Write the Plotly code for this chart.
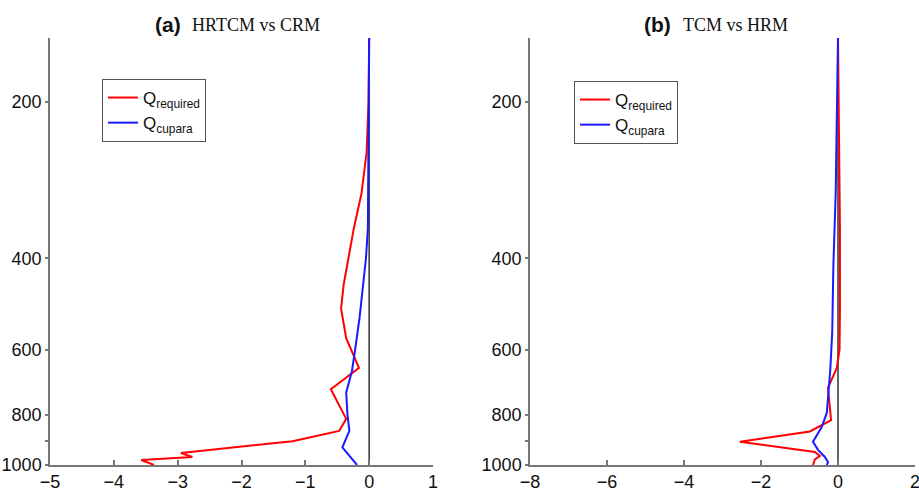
import plotly.graph_objects as go

# Panel (a): HRTCM vs CRM
a_req_p = [150, 200, 250, 300, 350, 400, 450, 500, 570, 650, 715, 815, 860, 900, 948, 965, 978, 1000]
a_req_x = [0, -0.01, -0.04, -0.12, -0.24, -0.32, -0.40, -0.44, -0.36, -0.16, -0.60, -0.36, -0.47, -1.20, -2.95, -2.77, -3.57, -3.37]
a_cup_p = [150, 300, 350, 400, 450, 520, 600, 660, 725, 800, 860, 925, 1000]
a_cup_x = [0, -0.01, -0.02, -0.05, -0.09, -0.15, -0.22, -0.27, -0.36, -0.34, -0.31, -0.42, -0.19]

# Panel (b): TCM vs HRM
b_req_p = [150, 250, 350, 500, 600, 650, 675, 710, 820, 862, 902, 944, 961, 975, 1000]
b_req_x = [0, 0.03, 0.05, 0.05, 0.04, -0.03, -0.13, -0.26, -0.18, -0.73, -2.55, -0.60, -0.47, -0.60, -0.65]
b_cup_p = [150, 300, 413, 555, 655, 720, 793, 844, 902, 935, 965, 987, 1000]
b_cup_x = [0, -0.06, -0.12, -0.15, -0.20, -0.24, -0.29, -0.42, -0.65, -0.52, -0.34, -0.26, -0.29]

y_tickvals = [200, 400, 600, 800, 900, 1000]
y_ticktext = ["200", "400", "600", "800", "", "1000"]

RED = "#ff0000"
BLUE = "#1a1aff"
W, H = 919, 492
SANS = "Liberation Sans, Arial, sans-serif"

fig = go.Figure()

fig.add_trace(go.Scatter(x=a_req_x, y=a_req_p, mode="lines", line=dict(color=RED, width=2),
                         name="Q<sub>required</sub>", xaxis="x", yaxis="y", legend="legend"))
fig.add_trace(go.Scatter(x=a_cup_x, y=a_cup_p, mode="lines", line=dict(color=BLUE, width=2),
                         name="Q<sub>cupara</sub>", xaxis="x", yaxis="y", legend="legend"))
fig.add_trace(go.Scatter(x=b_req_x, y=b_req_p, mode="lines", line=dict(color=RED, width=2),
                         name="Q<sub>required</sub>", xaxis="x2", yaxis="y2", legend="legend2"))
fig.add_trace(go.Scatter(x=b_cup_x, y=b_cup_p, mode="lines", line=dict(color=BLUE, width=2),
                         name="Q<sub>cupara</sub>", xaxis="x2", yaxis="y2", legend="legend2"))

ydom = [(H - 465) / H, (H - 38) / H]
tickfont = dict(family=SANS, size=18, color="#111")
axcol = "#777"

common_x = dict(showline=True, linecolor=axcol, linewidth=1.5, ticks="inside", ticklen=5,
                tickcolor=axcol, tickwidth=1.5, showgrid=False, zeroline=False, tickfont=tickfont,
                automargin=False, ticklabeloverflow="allow")
common_y = dict(type="log", range=[3, 2.178], showline=True, linecolor=axcol, linewidth=1.5,
                ticks="outside", ticklen=3, tickcolor=axcol, tickwidth=1.5, showgrid=False,
                zeroline=False, tickmode="array", tickvals=y_tickvals, ticktext=y_ticktext,
                tickfont=tickfont, automargin=False, ticklabeloverflow="allow")

legfont = dict(family=SANS, size=17, color="#111")
fig.update_layout(
    width=W, height=H,
    margin=dict(l=0, r=0, t=0, b=0, autoexpand=False),
    paper_bgcolor="white", plot_bgcolor="white",
    xaxis=dict(domain=[50 / W, 433 / W], range=[-5, 1], dtick=1, anchor="y", **common_x),
    yaxis=dict(domain=ydom, anchor="x", **common_y),
    xaxis2=dict(domain=[530 / W, 915 / W], range=[-8, 2], dtick=2, anchor="y2", **common_x),
    yaxis2=dict(domain=ydom, anchor="x2", **common_y),
    legend=dict(x=102 / W, y=(H - 79) / H, xanchor="left", yanchor="top",
                bgcolor="white", bordercolor="#555", borderwidth=1,
                font=legfont, itemwidth=30, tracegroupgap=0),
    legend2=dict(x=574 / W, y=(H - 81) / H, xanchor="left", yanchor="top",
                 bgcolor="white", bordercolor="#555", borderwidth=1,
                 font=legfont, itemwidth=30, tracegroupgap=0),
    showlegend=True,
)

# zero reference lines
for xr, yr in [("x", "y domain"), ("x2", "y2 domain")]:
    fig.add_shape(type="line", xref=xr, yref=yr, x0=0, x1=0, y0=0, y1=1,
                  line=dict(color="#333", width=1.5), layer="below")

# titles
titles = [
    (153, "(a)", 190, "HRTCM vs CRM"),
    (642, "(b)", 681, "TCM vs HRM"),
]
for xl, lab, xt, txt in titles:
    fig.add_annotation(x=xl / W, y=(H - 25) / H, xref="paper", yref="paper", xanchor="left",
                       yanchor="middle", text="<b>" + lab + "</b>", showarrow=False,
                       font=dict(family=SANS, size=21, color="#111"))
    fig.add_annotation(x=xt / W, y=(H - 25) / H, xref="paper", yref="paper", xanchor="left",
                       yanchor="middle", text=txt, showarrow=False,
                       font=dict(family="Liberation Serif, Times New Roman, serif", size=18, color="#111"))

fig.write_html("out.html")
